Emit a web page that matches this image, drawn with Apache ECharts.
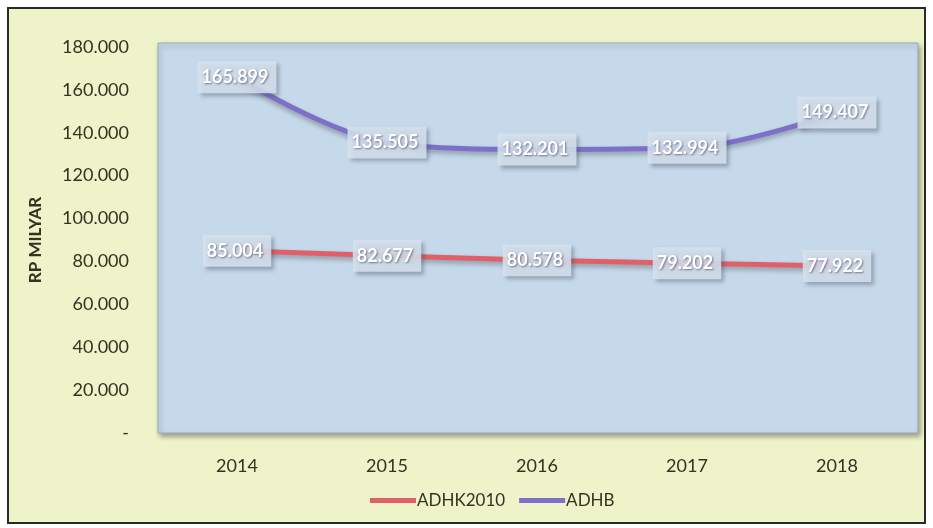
<!DOCTYPE html>
<html><head><meta charset="utf-8">
<script src="https://cdn.jsdelivr.net/npm/echarts@6/dist/echarts.min.js"></script>
<style>html,body{margin:0;padding:0;background:#fff}#c{width:933px;height:528px}</style>
</head><body><div id="c"></div>
<script>
const categories = ['2014', '2015', '2016', '2017', '2018'];
const adhk2010 = [85004, 82677, 80578, 79202, 77922];
const adhb = [165899, 135505, 132201, 132994, 149407];

function fmt(n) {
  if (n === 0) return '-';
  return String(n).replace(/\B(?=(\d{3})+(?!\d))/g, '.');
}
const FONT = 'Lato';
const labelStyle = {
  show: true,
  position: 'inside',
  formatter: p => fmt(p.value),
  color: '#ffffff',
  fontFamily: FONT,
  fontSize: 18,
  fontWeight: 'bold',
  textShadowColor: 'rgba(40,40,80,0.55)',
  textShadowBlur: 2,
  textShadowOffsetX: 1,
  textShadowOffsetY: 1,
  backgroundColor: 'rgba(215,227,239,0.85)',
  padding: [6, 8, 8, 4],
  shadowColor: 'rgba(60,70,90,0.45)',
  shadowBlur: 4,
  shadowOffsetX: 3,
  shadowOffsetY: 3
};
const chart = echarts.init(document.getElementById('c'));
chart.setOption({
  backgroundColor: '#ffffff',
  animation: false,
  graphic: [
    { type: 'rect', z: -10, shape: { x: 8, y: 8, width: 917, height: 515 },
      style: { fill: '#eef3c9', stroke: '#2a2a2a', lineWidth: 2 } },
    { type: 'rect', z: -9, shape: { x: 158, y: 43, width: 760, height: 390 },
      style: { fill: '#c6d9ea', stroke: '#9aaabb', lineWidth: 1,
        shadowColor: 'rgba(0,0,0,0.35)', shadowBlur: 5, shadowOffsetX: 2, shadowOffsetY: 3 } }
  ],
  grid: { left: 162, right: 21, top: 47, bottom: 95 },
  legend: {
    data: ['ADHK2010', 'ADHB'],
    bottom: 14,
    left: 365,
    icon: 'rect',
    itemWidth: 46,
    itemHeight: 5,
    itemGap: 14,
    textStyle: { fontFamily: FONT, fontSize: 17, color: '#333322', padding: [0, 0, 0, -4] }
  },
  xAxis: {
    type: 'category',
    data: categories,
    boundaryGap: true,
    axisLine: { show: false },
    axisTick: { show: false },
    axisLabel: { fontFamily: FONT, fontSize: 18, color: '#333322', margin: 24 }
  },
  yAxis: {
    type: 'value',
    min: 0,
    max: 180000,
    interval: 20000,
    name: 'RP MILYAR',
    nameLocation: 'middle',
    nameGap: 118,
    nameTextStyle: { fontFamily: FONT, fontSize: 17, fontWeight: 'bold', color: '#333322' },
    axisLine: { show: false },
    axisTick: { show: false },
    splitLine: { show: false },
    axisLabel: { fontFamily: FONT, fontSize: 18, color: '#333322', margin: 33, formatter: v => fmt(v) }
  },
  series: [
    {
      name: 'ADHK2010', type: 'line', data: adhk2010, smooth: 0.35,
      showSymbol: true, symbol: 'circle', symbolSize: 0.1,
      itemStyle: { color: '#df6068' },
      lineStyle: { color: '#df6068', width: 5, shadowColor: 'rgba(0,0,0,0.3)', shadowBlur: 5, shadowOffsetY: 3 },
      label: labelStyle
    },
    {
      name: 'ADHB', type: 'line', data: adhb, smooth: 0.35,
      showSymbol: true, symbol: 'circle', symbolSize: 0.1,
      itemStyle: { color: '#7e70c8' },
      lineStyle: { color: '#7e70c8', width: 5, shadowColor: 'rgba(0,0,0,0.3)', shadowBlur: 5, shadowOffsetY: 3 },
      label: labelStyle
    }
  ]
});
</script></body></html>
